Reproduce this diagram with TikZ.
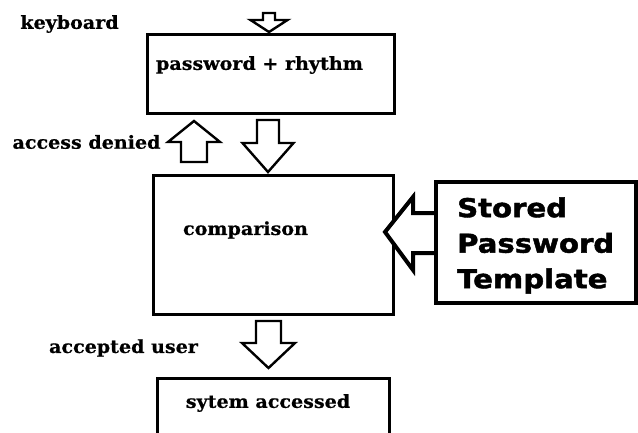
\documentclass[tikz,border=0pt]{standalone}
\usepackage{fontspec}
\setmainfont{DejaVu Serif}[BoldFeatures={FakeBold=0.6}]
\newfontfamily\heavysans{DejaVu Sans}[BoldFeatures={FakeBold=1.6}]
\newcommand{\wide}[1]{\scalebox{1.06}[1]{#1}}
\begin{document}
\begin{tikzpicture}[x=1pt,y=-1pt,
  box/.style={draw, line width=3pt, inner sep=0pt},
  lbl/.style={font=\bfseries\fontsize{18}{20}\selectfont, inner sep=0pt},
  barrow/.style={draw, line width=2.4pt, line join=miter, fill=white},
  pics/varrow/.style n args={4}{code={
    \draw[barrow] (-#1,0) -- (#1,0) -- (#1,#3) -- (#2,#3) -- (0,#4) -- (-#2,#3) -- (-#1,#3) -- cycle;}}]
\useasboundingbox (0,0) rectangle (638,432);
\clip (0,0) rectangle (638,432);
% labels
\node[lbl] (kb) at (69.5,24) {\wide{keyboard}};
\node[lbl] (ad) at (86.5,142) {\wide{access denied}};
\node[lbl] (au) at (123.5,348) {\wide{accepted user}};
% boxes
\node[box, minimum width=247, minimum height=79] (b1) at (270.5,73.5) {};
\node[lbl] (t1) at (259.5,65) {\wide{password + rhythm}};
\node[box, minimum width=240, minimum height=139] (b2) at (273,244.5) {};
\node[lbl] (t2) at (245.5,230) {\wide{comparison}};
\node[box, minimum width=232, minimum height=80] (b3) at (273,418) {};
\node[lbl] (t3) at (268,403) {\wide{sytem accessed}};
\node[draw, line width=4.5pt, minimum width=200, minimum height=121, inner sep=0pt] (sp) at (536,242.5) {};
\node[anchor=west, align=left, inner sep=0pt,
      font=\heavysans\bfseries\fontsize{26}{35.5}\selectfont] (spt) at (457,245.5)
  {\scalebox{1.12}[1]{Stored}\\\scalebox{1.12}[1]{Password}\\\scalebox{1.12}[1]{Template}};
% block arrows
\pic at (269,13) {varrow={6}{18.5}{7}{19}};
\pic[rotate=180] at (194,162) {varrow={13}{26}{20}{41}};
\pic at (268,120) {varrow={11}{25.5}{23}{52}};
\pic at (268.5,321) {varrow={12.5}{26.5}{22}{47}};
\draw[barrow, line width=4pt] (sp.west |- 0,213) -- (413,213) -- (413,197) -- (385,232)
  -- (413,270) -- (413,253) -- (sp.west |- 0,253);
\end{tikzpicture}
\end{document}
